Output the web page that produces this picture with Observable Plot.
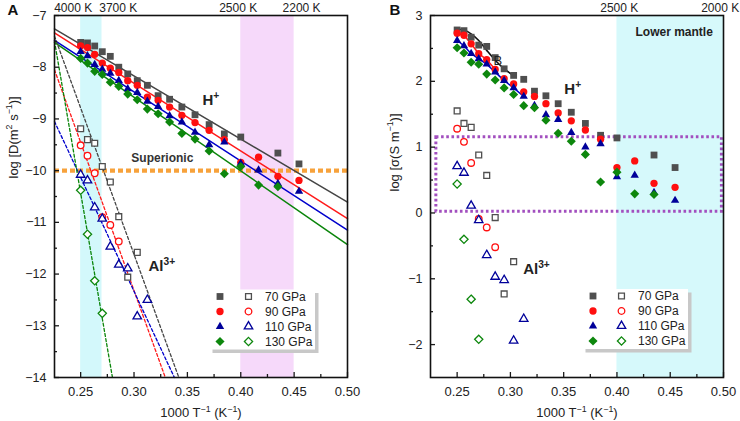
<!DOCTYPE html>
<html>
<head>
<meta charset="utf-8">
<script src="https://cdn.jsdelivr.net/npm/d3@7"></script>
<script src="https://cdn.jsdelivr.net/npm/@observablehq/plot@0.6"></script>
<style>
  body { margin: 0; background: #fff; }
  #wrap { display: flex; width: 740px; height: 421px; overflow: hidden; }
  #wrap svg { overflow: visible; display: block; }
</style>
</head>
<body>
<div id="wrap"></div>
<script>
const FONT = "'Liberation Sans', Arial, Helvetica, sans-serif";

// ---------- data ----------
// Run temperatures (K) for the H+ series; plotted as 1000/T
const tempsH = [4000, 3900, 3800, 3700, 3600, 3500, 3400, 3300, 3200, 3100, 3000, 2900, 2800, 2700, 2600, 2500, 2400, 2300, 2200];
// Run temperatures (K) for the Al3+ series
const tempsAl70 = [4000, 3900, 3800, 3700, 3600, 3500, 3400, 3300];
const tempsAl90 = [4000, 3900, 3800, 3700, 3600, 3500];
const tempsAl110 = [4000, 3900, 3800, 3700, 3600, 3500, 3400, 3300, 3200];
const tempsAl130 = [4000, 3900, 3800, 3700];

const pressures = ["70 GPa", "90 GPa", "110 GPa", "130 GPa"];

// Panel A: log D (m² s⁻¹), H+ (null = no run)
const logD_H70 = [-7.52, -7.53, -7.59, -7.70, -7.79, -8.00, -8.13, -8.26, -8.35, -8.55, -8.62, -8.77, -8.92, -9.11, -9.29, -9.35, null, -9.66, -9.87];
const logD_H90 = [-7.59, -7.62, -7.75, -7.92, -8.02, -8.10, -8.26, -8.35, -8.58, -8.64, -8.77, -8.93, -9.07, -9.22, -9.40, -9.84, -9.74, -10.11, -10.19];
const logD_H110 = [-7.70, -7.78, -7.95, -8.04, -8.12, -8.26, -8.42, -8.49, -8.66, -8.76, -8.94, -9.06, -9.26, -9.50, -9.45, -9.86, -9.99, -10.25, -10.40];
const logD_H130 = [-7.83, -7.92, -8.08, -8.14, -8.29, -8.37, -8.52, -8.63, -8.81, -8.90, -9.06, -9.28, -9.39, -9.62, -10.06, -9.92, -10.28, -10.31, null];
// Panel A: log D, Al3+
const logD_Al70 = [-9.19, -9.40, -9.47, -9.92, -10.22, -10.89, -12.06, -11.58];
const logD_Al90 = [-9.51, -9.71, -10.05, -10.90, -11.05, -11.37];
const logD_Al110 = [-10.08, -10.19, -10.71, -10.93, -11.47, -11.82, -11.89, -12.82, -12.50];
const logD_Al130 = [-10.38, -11.23, -12.13, -12.76];

// Arrhenius fits for H+: log D at both ends of the 1000/T range
const fitH_invT = [0.2255, 0.5];
const fitH_start = [-7.26, -7.335, -7.48, -7.52];
const fitH_end = [-10.61, -10.93, -11.15, -11.43];
// Arrhenius fits for Al3+: from the left edge down to log D = −14
const fitAl_invT = [[0.2255, 0.342], [0.2255, 0.3293], [0.2255, 0.3378], [0.2255, 0.2798]];
const fitAl_logD = [[-7.40, -14], [-8.05, -14], [-9.05, -14], [-7.50, -14]];

const superionicLogD = -10;
const bandA_hot = [0.25, 0.27];     // 1000/T
const bandA_cool = [0.40, 0.45];
const topTempsA = [4000, 3700, 2500, 2200];

// Panel B: log σ (S m⁻¹), H+
const logS_H70 = [2.78, 2.77, 2.67, 2.55, 2.53, 2.36, 2.19, 2.09, 2.03, 1.85, 1.78, 1.66, 1.53, 1.36, 1.18, 1.14, null, 0.88, 0.69];
const logS_H90 = [2.73, 2.70, 2.57, 2.42, 2.33, 2.18, 2.04, 1.96, 1.84, 1.77, 1.66, 1.52, 1.40, 1.26, 1.12, 0.69, 0.79, 0.45, 0.39];
const logS_H110 = [2.62, 2.54, 2.42, 2.34, 2.26, 2.14, 2.01, 1.90, 1.77, 1.63, 1.49, 1.42, 1.22, 1.00, 1.05, 0.55, 0.57, 0.31, 0.19];
const logS_H130 = [2.51, 2.43, 2.29, 2.26, 2.11, 2.02, 1.90, 1.80, 1.63, 1.60, 1.41, 1.21, 1.09, 0.89, 0.47, 0.62, 0.29, 0.28, null];
// Panel B: log σ, Al3+
const logS_Al70 = [1.55, 1.36, 1.30, 0.88, 0.57, -0.07, -1.23, -0.74];
const logS_Al90 = [1.28, 1.08, 0.76, -0.09, -0.22, -0.52];
const logS_Al110 = [0.71, 0.61, 0.11, -0.11, -0.64, -0.97, -1.02, -1.94, -1.61];
const logS_Al130 = [0.44, -0.40, -1.31, -1.92];

// Smooth trend through the hottest 70 GPa runs
const trend70_temps = [4000, 3900, 3800, 3700, 3600, 3500, 3400, 3300];
const trend70_logS = [2.79, 2.78, 2.72, 2.62, 2.47, 2.32, 2.19, 2.09];
// number of hottest runs joined by a line (90 and 110 GPa)
const joined90 = 6;
const joined110 = 9;

const bandB_mantle = [0.40, 0.50];
const boxB_invT = [0.2305, 0.4985];
const boxB_logS = [0.02, 1.15];
const topTempsB = [2500, 2000];

// ---------- helpers ----------
const toRows = (temps, vals) => temps.map((t, i) => ({x: 1000 / t, y: vals[i]})).filter(d => d.y != null);
const minus = d => d < 0 ? "\u2212" + Math.abs(d) : String(d);

const COL = ["#4f4f4f", "#ff0f0f", "#00009a", "#0d870d"];
const LINE = ["#454545", "#ff1a1a", "#0000cc", "#0a850a"];
const SYM = ["square", "circle", "triangle", "diamond2"];
const R_FILL = [3.85, 3.65, 3.1, 4.1];
const R_OPEN = [3.3, 3.3, 3.15, 3.7];

function axes(xMajor, xMinor, yMajor, yMinor) {
  return [
    Plot.axisX({ticks: xMajor, tickSize: -5, tickFormat: () => "", strokeWidth: 1.3}),
    Plot.axisX({ticks: xMinor, tickSize: -3, tickFormat: () => "", strokeWidth: 1.3}),
    Plot.axisX({ticks: xMajor, tickSize: 0, tickPadding: 9, tickFormat: d3.format(".2f"), fontSize: 13, fill: "#222"}),
    Plot.axisY({ticks: yMajor, tickSize: -5, tickFormat: () => "", strokeWidth: 1.3}),
    Plot.axisY({ticks: yMinor, tickSize: -3, tickFormat: () => "", strokeWidth: 1.3}),
    Plot.axisY({ticks: yMajor, tickSize: 0, tickPadding: 8, tickFormat: minus, fontSize: 12.5, fill: "#222"})
  ];
}

function filledDots(rowsList) {
  return rowsList.map((rows, i) => Plot.dot(rows, {x: "x", y: "y", symbol: SYM[i], r: R_FILL[i], fill: COL[i], stroke: "none"}));
}
function openDots(rowsList) {
  return rowsList.map((rows, i) => Plot.dot(rows, {x: "x", y: "y", symbol: SYM[i], r: R_OPEN[i], fill: "white", stroke: COL[i], strokeWidth: 1.3}));
}

// turn "^{...}" into raised tspans
function superscripts(svg) {
  d3.select(svg).selectAll("text").each(function () {
    const el = this;
    if (el.querySelector("tspan")) return;
    const s = el.textContent;
    if (!s.includes("^{")) return;
    const fs = parseFloat(getComputedStyle(el).fontSize) || 13;
    const shift = (0.42 * fs).toFixed(2);
    el.textContent = "";
    const parts = s.split(/\^\{([^}]*)\}/);
    parts.forEach((p, k) => {
      if (!p) return;
      const t = document.createElementNS("http://www.w3.org/2000/svg", "tspan");
      t.textContent = p;
      if (k % 2 === 1) {
        t.setAttribute("dy", -shift);
        t.setAttribute("font-size", (0.68 * fs).toFixed(2));
      } else if (k > 0) {
        t.setAttribute("dy", shift);
      }
      el.appendChild(t);
    });
  });
}

function legend(svg, x0, y0) {
  const g = d3.select(svg).append("g").attr("font-family", FONT).attr("font-size", 12)
    .attr("fill", "#222").attr("text-anchor", "start");
  g.append("rect").attr("x", x0 + 3.5).attr("y", y0 + 3.5).attr("width", 106).attr("height", 60).attr("fill", "#c8c8c8");
  g.append("rect").attr("x", x0).attr("y", y0).attr("width", 106).attr("height", 60).attr("fill", "#fff");
  const types = [d3.symbolSquare, d3.symbolCircle, d3.symbolTriangle, d3.symbolDiamond2];
  pressures.forEach((p, i) => {
    const cy = y0 + 7 + i * 15;
    g.append("path").attr("d", d3.symbol(types[i], Math.PI * R_FILL[i] * R_FILL[i])())
      .attr("transform", `translate(${x0 + 11},${cy})`).attr("fill", COL[i]);
    g.append("path").attr("d", d3.symbol(types[i], Math.PI * R_OPEN[i] * R_OPEN[i])())
      .attr("transform", `translate(${x0 + 39.5},${cy})`).attr("fill", "#fff")
      .attr("stroke", COL[i]).attr("stroke-width", 1.3);
    g.append("text").attr("x", x0 + 56).attr("y", cy).attr("dy", "0.36em").text(p);
  });
}

const common = {
  width: 370, height: 421, marginTop: 15, marginBottom: 44,
  style: {fontFamily: FONT, fontSize: "13px", color: "#1a1a1a", background: "transparent", overflow: "visible"}
};

// ---------- panel A: diffusion coefficients ----------
const hA = [logD_H70, logD_H90, logD_H110, logD_H130].map(v => toRows(tempsH, v));
const alA = [[tempsAl70, logD_Al70], [tempsAl90, logD_Al90], [tempsAl110, logD_Al110], [tempsAl130, logD_Al130]].map(([t, v]) => toRows(t, v));
const fitsH = fitH_start.map((y0, i) => [{x: fitH_invT[0], y: y0}, {x: fitH_invT[1], y: fitH_end[i]}]);
const fitsAl = fitAl_invT.map((xs, i) => xs.map((x, j) => ({x, y: fitAl_logD[i][j]})));
const topNudgeA = [-7.5, 16, -2.6, 2.6];

const plotA = Plot.plot({
  ...common,
  marginLeft: 54, marginRight: 23,
  x: {domain: [0.2255, 0.5], label: null},
  y: {domain: [-14, -7], label: null},
  marks: [
    Plot.rect([bandA_hot], {x1: d => d[0], x2: d => d[1], fill: "#d3f8fb"}),
    Plot.rect([bandA_cool], {x1: d => d[0], x2: d => d[1], fill: "#f6d9fa"}),
    Plot.ruleY([superionicLogD], {stroke: "#f7a23b", strokeWidth: 4.2, strokeDasharray: "5,3"}),
    ...fitsH.map((rows, i) => Plot.line(rows, {x: "x", y: "y", stroke: LINE[i], strokeWidth: 1.5})),
    ...fitsAl.map((rows, i) => Plot.line(rows, {x: "x", y: "y", stroke: LINE[i], strokeWidth: 1.3, strokeDasharray: "3,2.2"})),
    ...filledDots(hA),
    ...openDots(alA),
    Plot.text(["H^{+}"], {x: 0.372, y: -8.64, fontSize: 15, fontWeight: "bold", fill: "#222"}),
    Plot.text(["Al^{3+}"], {x: 0.326, y: -11.85, fontSize: 15, fontWeight: "bold", fill: "#222"}),
    Plot.text(["Superionic"], {x: 0.3265, y: -9.75, fontSize: 12, fontWeight: "bold", fill: "#333"}),
    ...topTempsA.map((t, i) => Plot.text([t], {x: d => 1000 / d, text: d => `${d} K`, frameAnchor: "top", lineAnchor: "bottom", dy: -3.5, dx: topNudgeA[i], fontSize: 12, fill: "#222"})),
    Plot.text(["A"], {frameAnchor: "top-left", textAnchor: "start", lineAnchor: "bottom", dx: -47, dy: -1, fontSize: 15, fontWeight: "bold", fill: "#111"}),
    Plot.text(["log [D(m^{2} s^{\u22121})]"], {frameAnchor: "left", rotate: -90, dx: -41, dy: -18, fontSize: 13, fill: "#222"}),
    Plot.text(["1000 T^{\u22121} (K^{\u22121})"], {frameAnchor: "bottom", lineAnchor: "bottom", dy: 39.5, fontSize: 13, fill: "#222"}),
    ...axes([0.25, 0.30, 0.35, 0.40, 0.45, 0.50], [0.275, 0.325, 0.375, 0.425, 0.475],
            [-14, -13, -12, -11, -10, -9, -8, -7], [-13.5, -12.5, -11.5, -10.5, -9.5, -8.5, -7.5]),
    Plot.frame({stroke: "#111", strokeWidth: 1.6})
  ]
});
legend(plotA, 209, 289.5);

// ---------- panel B: electrical conductivity ----------
const hB = [logS_H70, logS_H90, logS_H110, logS_H130].map(v => toRows(tempsH, v));
const alB = [[tempsAl70, logS_Al70], [tempsAl90, logS_Al90], [tempsAl110, logS_Al110], [tempsAl130, logS_Al130]].map(([t, v]) => toRows(t, v));
const trend70 = toRows(trend70_temps, trend70_logS);
const topNudgeB = [2.3, -3.3];

const plotB = Plot.plot({
  ...common,
  marginLeft: 60, marginRight: 17,
  x: {domain: [0.225, 0.5], label: null},
  y: {domain: [-2.5, 3], label: null},
  marks: [
    Plot.rect([bandB_mantle], {x1: d => d[0], x2: d => d[1], fill: "#d6f9fb"}),
    Plot.rect([[boxB_invT, boxB_logS]], {x1: d => d[0][0], x2: d => d[0][1], y1: d => d[1][0], y2: d => d[1][1],
      fill: "none", stroke: "#a24fbf", strokeWidth: 3, strokeDasharray: "2.6,2.6"}),
    Plot.line(trend70, {x: "x", y: "y", curve: "monotone-x", stroke: "#111", strokeWidth: 1.6}),
    Plot.line(hB[1].slice(0, joined90), {x: "x", y: "y", stroke: LINE[1], strokeWidth: 1.5}),
    Plot.line(hB[2].slice(0, joined110), {x: "x", y: "y", stroke: LINE[2], strokeWidth: 1.5}),
    ...filledDots(hB),
    ...openDots(alB),
    Plot.text(["B"], {x: 0.2882, y: 2.31, fontSize: 13, fill: "#222"}),
    Plot.text(["H^{+}"], {x: 0.3585, y: 1.88, fontSize: 15, fontWeight: "bold", fill: "#222"}),
    Plot.text(["Al^{3+}"], {x: 0.3245, y: -0.86, fontSize: 15, fontWeight: "bold", fill: "#222"}),
    Plot.text(["Lower mantle"], {x: 0.4537, y: 2.75, fontSize: 12, fontWeight: "bold", fill: "#222"}),
    ...topTempsB.map((t, i) => Plot.text([t], {x: d => 1000 / d, text: d => `${d} K`, frameAnchor: "top", lineAnchor: "bottom", dy: -3.5, dx: topNudgeB[i], fontSize: 12, fill: "#222"})),
    Plot.text(["B"], {frameAnchor: "top-left", textAnchor: "start", lineAnchor: "bottom", dx: -41, dy: -1, fontSize: 15, fontWeight: "bold", fill: "#111"}),
    Plot.text(["log [\u03c3(S m^{\u22121})]"], {frameAnchor: "left", rotate: -90, dx: -36, dy: -5, fontSize: 13, fill: "#222"}),
    Plot.text(["1000 T^{\u22121} (K^{\u22121})"], {frameAnchor: "bottom", lineAnchor: "bottom", dy: 39.5, fontSize: 13, fill: "#222"}),
    ...axes([0.25, 0.30, 0.35, 0.40, 0.45, 0.50], [0.275, 0.325, 0.375, 0.425, 0.475],
            [-2, -1, 0, 1, 2, 3], [-1.5, -0.5, 0.5, 1.5, 2.5]),
    Plot.frame({stroke: "#111", strokeWidth: 1.6})
  ]
});
legend(plotB, 212, 289);

const wrap = document.getElementById("wrap");
wrap.appendChild(plotA);
wrap.appendChild(plotB);
superscripts(plotA);
superscripts(plotB);
</script>
</body>
</html>
